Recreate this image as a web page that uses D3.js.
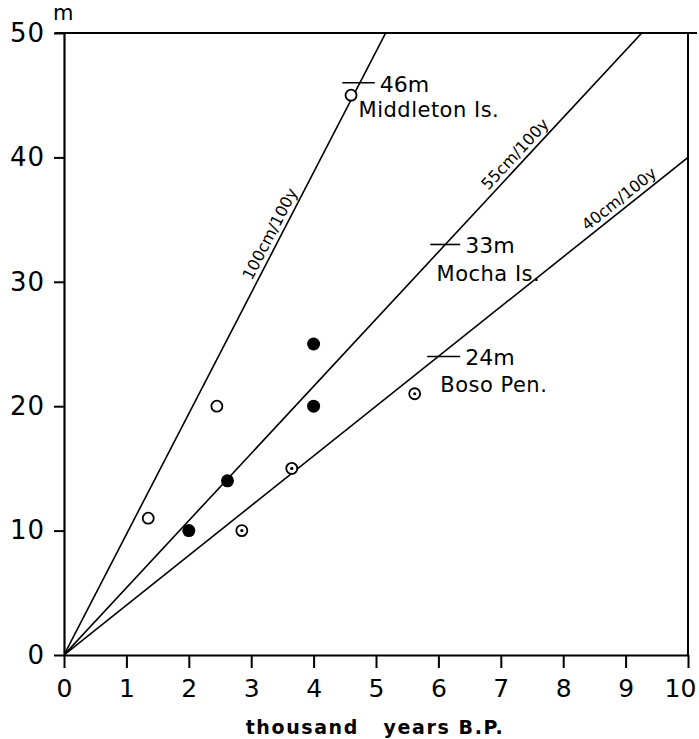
<!DOCTYPE html>
<html><head><meta charset="utf-8">
<script src="https://cdn.jsdelivr.net/npm/d3@7"></script>
<style>body{margin:0;background:#fff}svg{display:block}text{font-family:"DejaVu Sans",sans-serif;fill:#000}</style>
</head><body>
<svg id="c" width="699" height="739"></svg>
<script>
const xTicks = [0,1,2,3,4,5,6,7,8,9,10];
const yTicks = [0,10,20,30,40,50];
const rates = [9.7, 5.4, 4.0]; // m per thousand years, as drawn
const rateLabels = ["100cm/100y","55cm/100y","40cm/100y"];
const rateLabelX = [3.45, 7.35, 9.0];
const openPts = [[1.35,11],[2.45,20],[4.6,45]];
const filledPts = [[2.0,10],[2.62,14],[4.0,25],[4.0,20]];
const dottedPts = [[2.85,10],[3.65,15],[5.62,21]];
const sites = [{name:"Middleton Is.", h:46, nx:4.72, lx0:4.46, lx1:4.98, dy:34},
               {name:"Mocha Is.", h:33, nx:5.97, lx0:5.87, lx1:6.35, dy:37},
               {name:"Boso Pen.", h:24, nx:6.03, lx0:5.82, lx1:6.35, dy:36}];

const svg = d3.select("#c");
const x = d3.scaleLinear().domain([0,10]).range([64,688]);
const y = d3.scaleLinear().domain([0,50]).range([655,33]);

svg.append("clipPath").attr("id","clip").append("rect")
  .attr("x",x(0)).attr("y",y(50)).attr("width",x(10)-x(0)).attr("height",y(0)-y(50));

// frame top and right
svg.append("line").attr("x1",55).attr("x2",697).attr("y1",y(50)).attr("y2",y(50)).attr("stroke","#000").attr("stroke-width",2);
svg.append("line").attr("x1",x(10)).attr("x2",x(10)).attr("y1",y(50)).attr("y2",y(0)).attr("stroke","#000").attr("stroke-width",2);

// axes
const xAxis = d3.axisBottom(x).tickValues(xTicks).tickSize(13).tickPadding(11).tickSizeOuter(0);
const gx = svg.append("g").attr("transform",`translate(0,${y(0)})`).call(xAxis);
gx.select(".domain").attr("stroke-width",2.2);
gx.selectAll(".tick line").attr("stroke-width",2);
gx.selectAll(".tick text").attr("font-size",25).style("font-family","DejaVu Sans")
  .attr("dx",d=>d===10?-8:0);

const yAxis = d3.axisLeft(y).tickValues(yTicks).tickSize(10).tickPadding(9).tickSizeOuter(0);
const gy = svg.append("g").attr("transform",`translate(${x(0)},0)`).call(yAxis);
gy.select(".domain").attr("stroke-width",2.2);
gy.selectAll(".tick line").attr("stroke-width",2);
gy.selectAll(".tick text").attr("font-size",26).style("font-family","DejaVu Sans").style("letter-spacing","1px");

svg.append("text").attr("x",53).attr("y",20).attr("font-size",21).text("m");
svg.append("text").attr("x",375).attr("y",734).attr("text-anchor","middle").attr("font-size",19)
  .attr("font-weight","bold").attr("xml:space","preserve").style("letter-spacing","1.6px").text("thousand   years B.P.");

// rate lines
const g = svg.append("g").attr("clip-path","url(#clip)");
rates.forEach(r=>{
  g.append("line").attr("x1",x(0)).attr("y1",y(0)).attr("x2",x(10)).attr("y2",y(r*10))
   .attr("stroke","#000").attr("stroke-width",1.6);
});
rates.forEach((r,i)=>{
  const px = x(rateLabelX[i]), py = y(r*rateLabelX[i]);
  const ang = Math.atan2(y(r)-y(0), x(1)-x(0))*180/Math.PI;
  svg.append("text").attr("transform",`translate(${px},${py}) rotate(${ang}) translate(0,-5)`)
    .attr("text-anchor","middle").attr("font-size",16).text(rateLabels[i]);
});

// site labels
sites.forEach(s=>{
  svg.append("line").attr("x1",x(s.lx0)).attr("x2",x(s.lx1)).attr("y1",y(s.h)).attr("y2",y(s.h)).attr("stroke","#000").attr("stroke-width",1.6);
  svg.append("text").attr("x",x(s.lx1)+5).attr("y",y(s.h)+9).attr("font-size",22).text(s.h+"m");
  svg.append("text").attr("x",x(s.nx)).attr("y",y(s.h)+s.dy).attr("font-size",21).style("letter-spacing","0.5px").text(s.name);
});

// points
svg.selectAll(".op").data(openPts).join("circle").attr("cx",d=>x(d[0])).attr("cy",d=>y(d[1])).attr("r",5.5)
  .attr("fill","#fff").attr("stroke","#000").attr("stroke-width",1.8);
svg.selectAll(".fp").data(filledPts).join("circle").attr("cx",d=>x(d[0])).attr("cy",d=>y(d[1])).attr("r",6.5)
  .attr("fill","#000");
svg.selectAll(".dp").data(dottedPts).join("circle").attr("cx",d=>x(d[0])).attr("cy",d=>y(d[1])).attr("r",5.5)
  .attr("fill","#fff").attr("stroke","#000").attr("stroke-width",1.8);
svg.selectAll(".dd").data(dottedPts).join("circle").attr("cx",d=>x(d[0])).attr("cy",d=>y(d[1])).attr("r",1.6)
  .attr("fill","#000");
</script>
</body></html>
